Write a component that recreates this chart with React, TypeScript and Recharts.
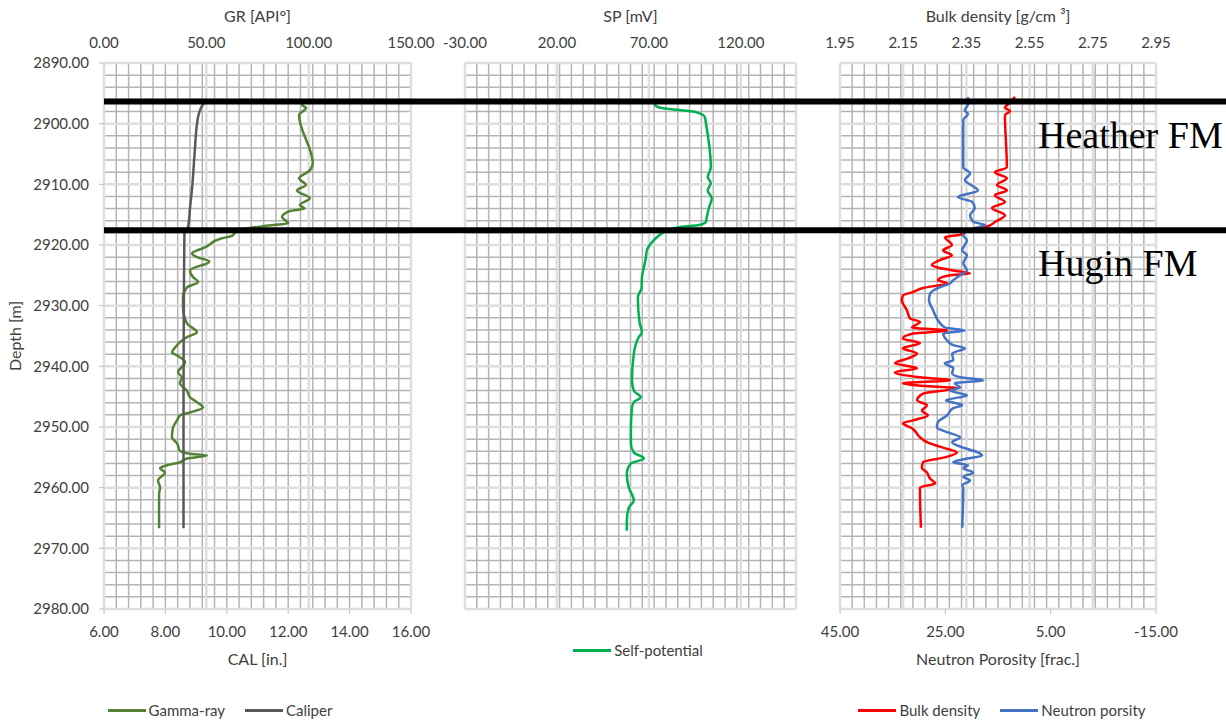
import React from 'react';
import {
  LineChart,
  Line,
  XAxis,
  YAxis,
  CartesianGrid,
  Legend,
  ReferenceLine,
} from 'recharts';

// axis ticks
const depthTicks = [2890, 2900, 2910, 2920, 2930, 2940, 2950, 2960, 2970, 2980];
const grTicks = [0, 50, 100, 150];
const calTicks = [6, 8, 10, 12, 14, 16];
const spTicks = [-30, 20, 70, 120];
const rhobTicks = [1.95, 2.15, 2.35, 2.55, 2.75, 2.95];
const nphiTicks = [45, 25, 5, -15];

// gamma-ray [API]
const grDepth = [
  2896.5, 2896.9, 2897.4, 2898.6, 2906.5, 2907.7, 2909.0, 2910.1, 2911.0, 2912.3,
  2913.4, 2914.0, 2914.4, 2915.4, 2916.4, 2916.8, 2917.2, 2918.0, 2918.5, 2918.9,
  2920.4, 2921.4, 2922.0, 2922.7, 2924.2, 2925.3, 2926.1, 2927.0, 2928.6, 2930.3,
  2932.9, 2934.4, 2935.2, 2936.9, 2937.7, 2938.2, 2939.3, 2941.0, 2941.8, 2942.8,
  2944.0, 2945.1, 2945.9, 2946.8, 2947.6, 2948.1, 2948.9, 2950.1, 2951.7, 2952.7,
  2953.9, 2954.4, 2954.7, 2955.2, 2955.8, 2956.3, 2956.8, 2957.5, 2958.8, 2960.0,
  2961.0, 2966.7,
];
const grValues = [
  97.5, 96.7, 98.7, 95.3, 102.0, 100.6, 95.3, 98.7, 94.3, 100.6,
  95.7, 98.0, 90.9, 87.0, 90.0, 80.0, 71.0, 64.0, 62.5, 57.6,
  49.3, 43.0, 45.4, 51.5, 42.0, 43.5, 46.0, 40.5, 38.6, 38.6,
  40.5, 45.4, 40.5, 34.7, 33.2, 35.7, 39.6, 36.2, 38.0, 37.1,
  40.5, 42.0, 45.4, 48.4, 42.0, 37.1, 35.7, 33.7, 33.2, 35.7,
  37.1, 42.0, 50.3, 40.5, 37.1, 30.8, 27.4, 29.8, 26.4, 27.4,
  26.9, 26.9,
];

// caliper [in.]
const calDepth = [2896.3, 2897.5, 2899.0, 2905.0, 2910.0, 2914.0, 2917.0, 2918.0, 2930.0, 2950.0, 2966.7];
const calValues = [9.29, 9.15, 9.06, 8.95, 8.88, 8.8, 8.74, 8.62, 8.6, 8.59, 8.59];

// self-potential [mV]
const spDepth = [
  2896.5, 2896.9, 2897.4, 2897.8, 2898.1, 2898.9, 2899.9, 2907.2, 2908.8, 2909.8,
  2911.0, 2912.3, 2913.9, 2915.4, 2916.2, 2916.7, 2917.0, 2917.5, 2918.2, 2919.2,
  2920.9, 2922.0, 2923.7, 2925.3, 2927.1, 2928.6, 2932.9, 2934.4, 2935.2, 2937.9,
  2942.3, 2944.0, 2945.1, 2945.9, 2946.8, 2950.6, 2952.7, 2954.2, 2955.2, 2956.0,
  2957.7, 2960.0, 2962.1, 2963.3, 2965.4, 2967.1,
];
const spValues = [
  73.0, 73.3, 76.5, 88.0, 95.5, 100.4, 101.0, 103.7, 102.0, 103.7,
  102.0, 104.2, 102.6, 101.5, 101.0, 97.2, 88.0, 81.0, 76.5, 72.7,
  68.9, 68.4, 67.3, 66.2, 66.0, 64.0, 65.0, 66.2, 64.5, 61.8,
  60.8, 61.8, 65.6, 61.8, 60.8, 60.2, 60.2, 61.8, 67.3, 60.2,
  58.0, 59.1, 61.8, 59.1, 58.0, 58.0,
];

// bulk density [g/cm3]
const rhobDepth = [
  2895.6, 2896.5, 2897.4, 2897.9, 2898.6, 2907.2, 2908.0, 2909.0, 2910.1, 2911.0,
  2911.8, 2912.9, 2913.9, 2915.1, 2916.2, 2916.9, 2917.5, 2918.3, 2918.7, 2920.0,
  2920.9, 2921.7, 2922.5, 2923.3, 2924.2, 2924.7, 2925.0, 2925.8, 2926.3, 2927.1,
  2927.8, 2928.3, 2929.1, 2930.8, 2932.1, 2932.7, 2933.6, 2934.1, 2934.6, 2935.4,
  2936.2, 2937.0, 2937.9, 2938.7, 2939.5, 2940.3, 2941.0, 2941.8, 2942.3, 2942.8,
  2943.3, 2943.6, 2944.5, 2945.6, 2946.4, 2947.3, 2948.1, 2948.9, 2949.4, 2950.2,
  2951.7, 2952.5, 2953.4, 2954.2, 2955.0, 2955.8, 2956.7, 2957.5, 2958.5, 2959.3,
  2960.0, 2966.6,
];
const rhobValues = [
  2.504, 2.488, 2.472, 2.488, 2.472, 2.478, 2.44, 2.478, 2.447, 2.478,
  2.44, 2.472, 2.431, 2.472, 2.44, 2.418, 2.361, 2.33, 2.282, 2.304,
  2.276, 2.304, 2.266, 2.241, 2.308, 2.361, 2.298, 2.26, 2.289, 2.213,
  2.178, 2.149, 2.146, 2.162, 2.172, 2.203, 2.178, 2.289, 2.181, 2.149,
  2.203, 2.149, 2.194, 2.165, 2.124, 2.194, 2.124, 2.203, 2.298, 2.149,
  2.235, 2.32, 2.213, 2.194, 2.225, 2.209, 2.228, 2.181, 2.149, 2.178,
  2.203, 2.225, 2.276, 2.32, 2.282, 2.213, 2.209, 2.225, 2.235, 2.251,
  2.203, 2.206,
];

// neutron porosity
const nphiDepth = [
  2895.6, 2896.8, 2897.8, 2898.4, 2899.4, 2907.2, 2908.2, 2909.3, 2910.5, 2911.0,
  2912.1, 2912.9, 2913.9, 2915.1, 2916.2, 2916.7, 2917.2, 2918.0, 2918.4, 2919.2,
  2920.9, 2921.7, 2923.0, 2924.2, 2925.0, 2925.8, 2926.3, 2927.1, 2928.0, 2929.1,
  2930.8, 2932.4, 2933.6, 2934.1, 2934.6, 2935.7, 2936.5, 2937.0, 2937.9, 2939.0,
  2939.5, 2940.3, 2941.2, 2941.8, 2942.3, 2942.8, 2943.5, 2944.0, 2944.8, 2945.6,
  2946.4, 2946.9, 2948.1, 2949.2, 2950.1, 2950.9, 2951.7, 2952.5, 2953.4, 2954.2,
  2954.7, 2955.2, 2955.8, 2956.3, 2956.8, 2957.5, 2958.2, 2958.8, 2959.6, 2960.1,
  2966.6,
];
const nphiValues = [
  20.7, 20.7, 21.3, 20.7, 21.6, 21.6, 20.3, 21.3, 19.4, 18.8,
  22.6, 19.9, 19.4, 20.3, 19.7, 17.5, 19.4, 21.3, 21.6, 20.9,
  21.8, 20.9, 21.6, 20.9, 22.2, 23.5, 24.1, 26.4, 27.9, 28.1,
  27.3, 26.4, 25.1, 21.3, 25.4, 24.7, 23.5, 21.3, 23.7, 23.5,
  25.1, 23.5, 23.7, 22.2, 17.8, 23.2, 22.2, 24.1, 20.9, 24.9,
  21.8, 23.5, 24.7, 26.4, 26.6, 24.5, 22.2, 23.7, 21.6, 18.8,
  18.0, 20.9, 23.5, 20.7, 21.6, 19.7, 21.6, 20.3, 21.8, 21.6,
  21.8,
];

const formationTops = [2896.35, 2917.55];
const formationNames = ['Heather FM', 'Hugin FM'];
const legendOrder = ['Gamma-ray', 'Caliper', 'Self-potential', 'Bulk density', 'Neutron porsity'];

const grData = grDepth.map((depth, i) => ({ depth, gr: grValues[i] }));
const calData = calDepth.map((depth, i) => ({ depth, cal: calValues[i] }));
const spData = spDepth.map((depth, i) => ({ depth, sp: spValues[i] }));
const rhobData = rhobDepth.map((depth, i) => ({ depth, rhob: rhobValues[i] }));
const nphiData = nphiDepth.map((depth, i) => ({ depth, nphi: nphiValues[i] }));
const topsData = formationTops.map((depth, i) => ({ depth, name: formationNames[i] }));

const FONT = 'Lato, "Open Sans", sans-serif';
const TEXT = '#404040';
const MINOR = '#b4b4b4';
const MAJOR = '#dedede';
const DEPTH_DOMAIN = [2890, 2980];
const fmt2 = (v: number) => v.toFixed(2);
const tickStyle = { fill: TEXT, fontSize: 15 };
const titleStyle = { fill: TEXT, fontSize: 16 };

const steps = (n: number) => Array.from({ length: n + 1 }, (_, i) => i);
const depthMinor = Array.from({ length: 46 }, (_, i) => 2890 + 2 * i);

// minor + major grid for one track
function gridLayers(id: string, columns: number, majorX: string) {
  return [
    <XAxis key={id + 'gx'} xAxisId={id + 'minor'} type="number" domain={[0, columns]} allowDataOverflow ticks={steps(columns)} interval={0} hide />,
    <YAxis key={id + 'gy'} yAxisId={id + 'minor'} type="number" dataKey="depth" domain={DEPTH_DOMAIN} allowDataOverflow ticks={depthMinor} interval={0} hide />,
    <CartesianGrid key={id + 'g1'} xAxisId={id + 'minor'} yAxisId={id + 'minor'} stroke={MINOR} strokeWidth={1.5} />,
    <CartesianGrid key={id + 'g2'} xAxisId={majorX} yAxisId="depth" stroke={MAJOR} strokeWidth={2.5} />,
  ];
}

const sortLegend = (item: any) => legendOrder.indexOf(item.value);

const renderLegend = (props: any) => (
  <div style={{ display: 'flex', justifyContent: 'center', gap: 20, fontFamily: FONT, fontSize: 15, color: TEXT }}>
    {(props.payload || []).map((entry: any) => (
      <div key={entry.value} style={{ display: 'flex', alignItems: 'center' }}>
        <span style={{ display: 'inline-block', width: 38, height: 3, background: entry.color, marginRight: 3 }} />
        <span>{entry.value}</span>
      </div>
    ))}
  </div>
);

const DepthTitle = (props: any) => {
  const { x, y, height } = props.viewBox;
  const cx = x + 14;
  const cy = y + height / 2;
  return (
    <text x={cx} y={cy} transform={`rotate(-90 ${cx} ${cy})`} textAnchor="middle" dominantBaseline="central" fill={TEXT} fontSize={16}>
      Depth [m]
    </text>
  );
};

const FormationLabel = (props: any) => {
  const { x, y, width } = props.viewBox;
  return (
    <text x={x + width - 188} y={y + 46} fill="#000" fontSize={38} fontFamily='"Liberation Serif", serif'>
      {props.name}
    </text>
  );
};

const abs = (left: number): React.CSSProperties => ({ position: 'absolute', left, top: 0 });

export default function App() {
  return (
    <div style={{ position: 'absolute', left: 0, top: 0, width: 1226, height: 722, background: '#fff', fontFamily: FONT }}>
      {/* track 1: GR + caliper */}
      <LineChart layout="vertical" width={440} height={722} margin={{ top: 33, right: 29, bottom: 83, left: 0 }} style={abs(0)}>
        <YAxis
          yAxisId="depth"
          type="number"
          dataKey="depth"
          domain={DEPTH_DOMAIN}
          allowDataOverflow
          ticks={depthTicks}
          interval={0}
          tickFormatter={fmt2}
          tick={tickStyle}
          width={104}
          tickSize={5}
          tickMargin={10}
          axisLine={{ stroke: MAJOR, strokeWidth: 2 }}
          tickLine={{ stroke: '#bfbfbf' }}
          label={<DepthTitle />}
        />
        <XAxis
          xAxisId="gr"
          orientation="top"
          type="number"
          domain={[0, 150]}
          allowDataOverflow
          ticks={grTicks}
          interval={0}
          tickFormatter={fmt2}
          tick={tickStyle}
          height={30}
          axisLine={false}
          tickLine={false}
          tickSize={0}
          tickMargin={15}
          label={{ value: 'GR [API°]', position: 'top', offset: 11, ...titleStyle }}
        />
        <XAxis
          xAxisId="cal"
          orientation="bottom"
          type="number"
          domain={[6, 16]}
          allowDataOverflow
          ticks={calTicks}
          interval={0}
          tickFormatter={fmt2}
          tick={tickStyle}
          height={30}
          tickSize={5}
          tickMargin={12}
          axisLine={{ stroke: MAJOR, strokeWidth: 2 }}
          tickLine={{ stroke: '#bfbfbf' }}
          label={{ value: 'CAL [in.]', position: 'bottom', offset: 15, ...titleStyle }}
        />
        {gridLayers('t1', 25, 'gr')}
        <Line xAxisId="gr" yAxisId="depth" data={grData} dataKey="gr" name="Gamma-ray" type="monotone" stroke="#548235" strokeWidth={2.5} dot={false} isAnimationActive={false} />
        <Line xAxisId="cal" yAxisId="depth" data={calData} dataKey="cal" name="Caliper" type="monotone" stroke="#595959" strokeWidth={2.5} dot={false} isAnimationActive={false} />
        <Legend layout="horizontal" verticalAlign="middle" align="center" itemSorter={sortLegend} content={renderLegend} wrapperStyle={{ top: 701, left: 0, width: 440 }} />
      </LineChart>

      {/* track 2: SP */}
      <LineChart layout="vertical" width={380} height={722} margin={{ top: 33, right: 24, bottom: 113, left: 25 }} style={abs(440)}>
        <YAxis yAxisId="depth" type="number" dataKey="depth" domain={DEPTH_DOMAIN} allowDataOverflow ticks={depthTicks} interval={0} hide />
        <XAxis
          xAxisId="sp"
          orientation="top"
          type="number"
          domain={[-30, 150]}
          allowDataOverflow
          ticks={spTicks}
          interval={0}
          tickFormatter={fmt2}
          tick={tickStyle}
          height={30}
          axisLine={false}
          tickLine={false}
          tickSize={0}
          tickMargin={15}
          label={{ value: 'SP [mV]', position: 'top', offset: 11, ...titleStyle }}
        />
        {gridLayers('t2', 28, 'sp')}
        <Line xAxisId="sp" yAxisId="depth" data={spData} dataKey="sp" name="Self-potential" type="monotone" stroke="#00b050" strokeWidth={2.5} dot={false} isAnimationActive={false} />
        <Legend layout="horizontal" verticalAlign="middle" align="center" content={renderLegend} wrapperStyle={{ top: 641, left: 8, width: 380 }} />
      </LineChart>

      {/* track 3: bulk density + neutron porosity */}
      <LineChart layout="vertical" width={406} height={722} margin={{ top: 33, right: 70, bottom: 83, left: 20 }} style={abs(820)}>
        <YAxis yAxisId="depth" type="number" dataKey="depth" domain={DEPTH_DOMAIN} allowDataOverflow ticks={depthTicks} interval={0} hide />
        <XAxis
          xAxisId="rhob"
          orientation="top"
          type="number"
          domain={[1.95, 2.95]}
          allowDataOverflow
          ticks={rhobTicks}
          interval={0}
          tick={tickStyle}
          height={30}
          axisLine={false}
          tickLine={false}
          tickSize={0}
          tickMargin={15}
          label={{ value: 'Bulk density [g/cm ³]', position: 'top', offset: 11, ...titleStyle }}
        />
        <XAxis
          xAxisId="nphi"
          orientation="bottom"
          type="number"
          domain={[-15, 45]}
          reversed
          allowDataOverflow
          ticks={nphiTicks}
          interval={0}
          tickFormatter={fmt2}
          tick={tickStyle}
          height={30}
          tickSize={5}
          tickMargin={12}
          axisLine={{ stroke: MAJOR, strokeWidth: 2 }}
          tickLine={{ stroke: '#bfbfbf' }}
          label={{ value: 'Neutron Porosity [frac.]', position: 'bottom', offset: 15, ...titleStyle }}
        />
        {gridLayers('t3', 26, 'rhob')}
        <Line xAxisId="rhob" yAxisId="depth" data={rhobData} dataKey="rhob" name="Bulk density" type="monotone" stroke="#ff0000" strokeWidth={2.5} dot={false} isAnimationActive={false} />
        <Line xAxisId="nphi" yAxisId="depth" data={nphiData} dataKey="nphi" name="Neutron porsity" type="monotone" stroke="#4472c4" strokeWidth={2.5} dot={false} isAnimationActive={false} />
        <Legend layout="horizontal" verticalAlign="middle" align="center" itemSorter={sortLegend} content={renderLegend} wrapperStyle={{ top: 701, left: 0, width: 364 }} />
      </LineChart>

      {/* formation tops across all tracks */}
      <LineChart layout="vertical" data={topsData} width={1226} height={722} margin={{ top: 63, right: 0, bottom: 113, left: 104 }} style={{ ...abs(0), pointerEvents: 'none' }}>
        <XAxis type="number" domain={[0, 1]} allowDataOverflow hide />
        <YAxis type="number" dataKey="depth" domain={DEPTH_DOMAIN} allowDataOverflow hide />
        {formationTops.map((d, i) => (
          <ReferenceLine key={d} y={d} stroke="#000" strokeWidth={6} ifOverflow="visible" label={<FormationLabel name={formationNames[i]} />} />
        ))}
      </LineChart>
    </div>
  );
}
